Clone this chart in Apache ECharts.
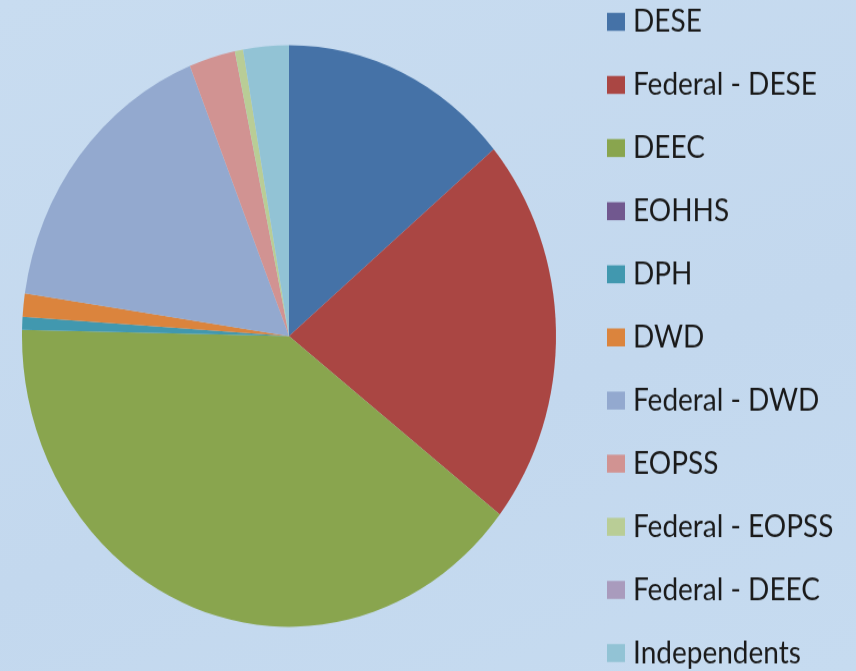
<!DOCTYPE html>
<html><head><meta charset="utf-8">
<script src="https://cdn.jsdelivr.net/npm/echarts@6/dist/echarts.min.js"></script>
<style>
html,body{margin:0;padding:0;width:856px;height:671px;overflow:hidden;background:#c5daef;}
#wrap{position:absolute;left:0;top:0;width:856px;height:671px;overflow:hidden;background:linear-gradient(160deg,#c8dcf0 0%,#c3d8ee 60%,#c6dbf0 100%);}
#chart{position:absolute;left:0;top:0;width:856px;height:650px;transform:scaleY(1.0893);transform-origin:0 0;}
</style></head>
<body><div id="wrap"><div id="chart"></div></div>
<script>
const categories = ["DESE","Federal - DESE","DEEC","EOHHS","DPH","DWD","Federal - DWD","EOPSS","Federal - EOPSS","Federal - DEEC","Independents"];
const values = [13.9, 21.6, 39.8, 0, 0.72, 1.28, 16.6, 2.8, 0.5, 0, 2.75];
const colors = ["#4572a7","#aa4643","#89a54e","#71588f","#4198af","#db843d","#93a9cf","#d19392","#b9cd96","#a99bbd","#92c3d5"];

const chart = echarts.init(document.getElementById('chart'), null, {renderer:'canvas'});
chart.setOption({
  animation:false,
  backgroundColor:'transparent',
  color: colors,
  legend:{
    orient:'vertical', left:607, top:6, padding:0,
    itemWidth:18, itemHeight:16.5, itemGap:29.95,
    icon:'rect',
    textStyle:{fontFamily:'Lato', fontSize:28, lineHeight:28, color:'#1a1a1a', padding:[0,0,0,3]},
    data: categories
  },
  series:[{
    type:'pie',
    center:[289,308.4],
    radius:[0,267],
    startAngle:90,
    clockwise:true,
    label:{show:false}, labelLine:{show:false},
    silent:true,
    itemStyle:{borderWidth:0},
    data: categories.map((c,i)=>({name:c, value:values[i]}))
  }]
});
</script></body></html>
